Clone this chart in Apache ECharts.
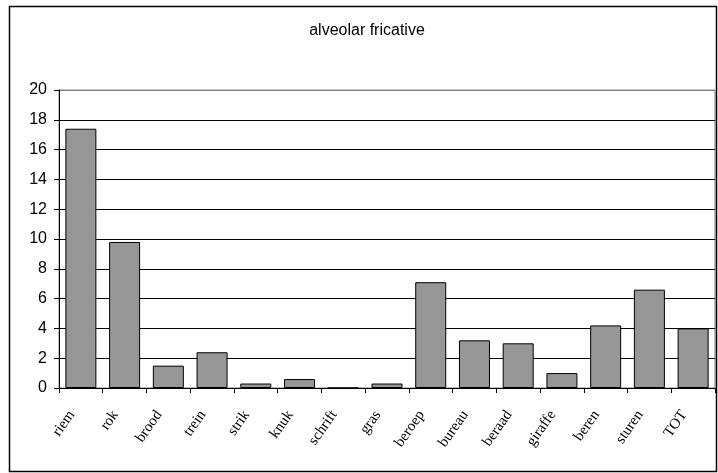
<!DOCTYPE html>
<html>
<head>
<meta charset="utf-8">
<title>alveolar fricative</title>
<script src="https://cdn.jsdelivr.net/npm/echarts@6/dist/echarts.min.js"></script>
<style>
  html, body { margin: 0; padding: 0; background: #fff; }
  #chart { width: 718px; height: 473px; }
</style>
</head>
<body>
<div id="chart"></div>
<script>
// Words and their alveolar fricative scores
const categories = ['riem', 'rok', 'brood', 'trein', 'strik', 'knuk', 'schrift', 'gras',
  'beroep', 'bureau', 'beraad', 'giraffe', 'beren', 'sturen', 'TOT'];
const values = [17.4, 9.8, 1.5, 2.4, 0.3, 0.6, 0, 0.3, 7.1, 3.2, 3.0, 1.0, 4.2, 6.6, 4.0];
const titleText = 'alveolar fricative';
const yMin = 0, yMax = 20, yStep = 2;

// Gridlines are black, except the top one, which is part of the grey plot frame
const gridColors = [];
for (let v = yMin; v <= yMax; v += yStep) gridColors.push(v === yMax ? '#808080' : '#000000');

const chart = echarts.init(document.getElementById('chart'), null, { renderer: 'canvas' });
chart.setOption({
  backgroundColor: '#ffffff',
  animation: false,
  title: {
    text: titleText,
    left: 367,
    top: 23,
    textAlign: 'center',
    padding: 0,
    textStyle: { fontFamily: 'Liberation Sans, Arial, sans-serif', fontSize: 16, fontWeight: 'normal', color: '#000' }
  },
  graphic: [{
    type: 'rect',
    shape: { x: 9.5, y: 6.5, width: 707, height: 465 },
    style: { fill: null, stroke: '#000', lineWidth: 1.5 },
    silent: true,
    z: 0
  }],
  grid: {
    left: 59, right: 3, top: 90, bottom: 85,
    show: true, borderColor: '#808080', borderWidth: 1, backgroundColor: 'transparent'
  },
  xAxis: {
    type: 'category',
    data: categories,
    boundaryGap: true,
    axisLine: { lineStyle: { color: '#000', width: 1 } },
    axisTick: { show: true, alignWithLabel: false, length: 5, lineStyle: { color: '#000' } },
    axisLabel: {
      interval: 0, rotate: 55, margin: 11,
      padding: [0, 16, 0, 0],
      fontFamily: 'Liberation Serif, Times New Roman, serif', fontSize: 15, color: '#000'
    },
    splitLine: { show: false }
  },
  yAxis: {
    type: 'value',
    min: yMin, max: yMax, interval: yStep,
    axisLine: { show: true, lineStyle: { color: '#000', width: 1 } },
    axisTick: { show: true, length: 5, lineStyle: { color: '#000' } },
    axisLabel: {
      margin: 12,
      fontFamily: 'Liberation Sans, Arial, sans-serif', fontSize: 16, color: '#000'
    },
    splitLine: { show: true, lineStyle: { color: gridColors, width: 1 } }
  },
  series: [{
    type: 'bar',
    data: values,
    barWidth: 31,
    itemStyle: { color: '#969696', borderColor: '#000', borderWidth: 1 },
    z: 3
  }]
});
</script>
</body>
</html>
